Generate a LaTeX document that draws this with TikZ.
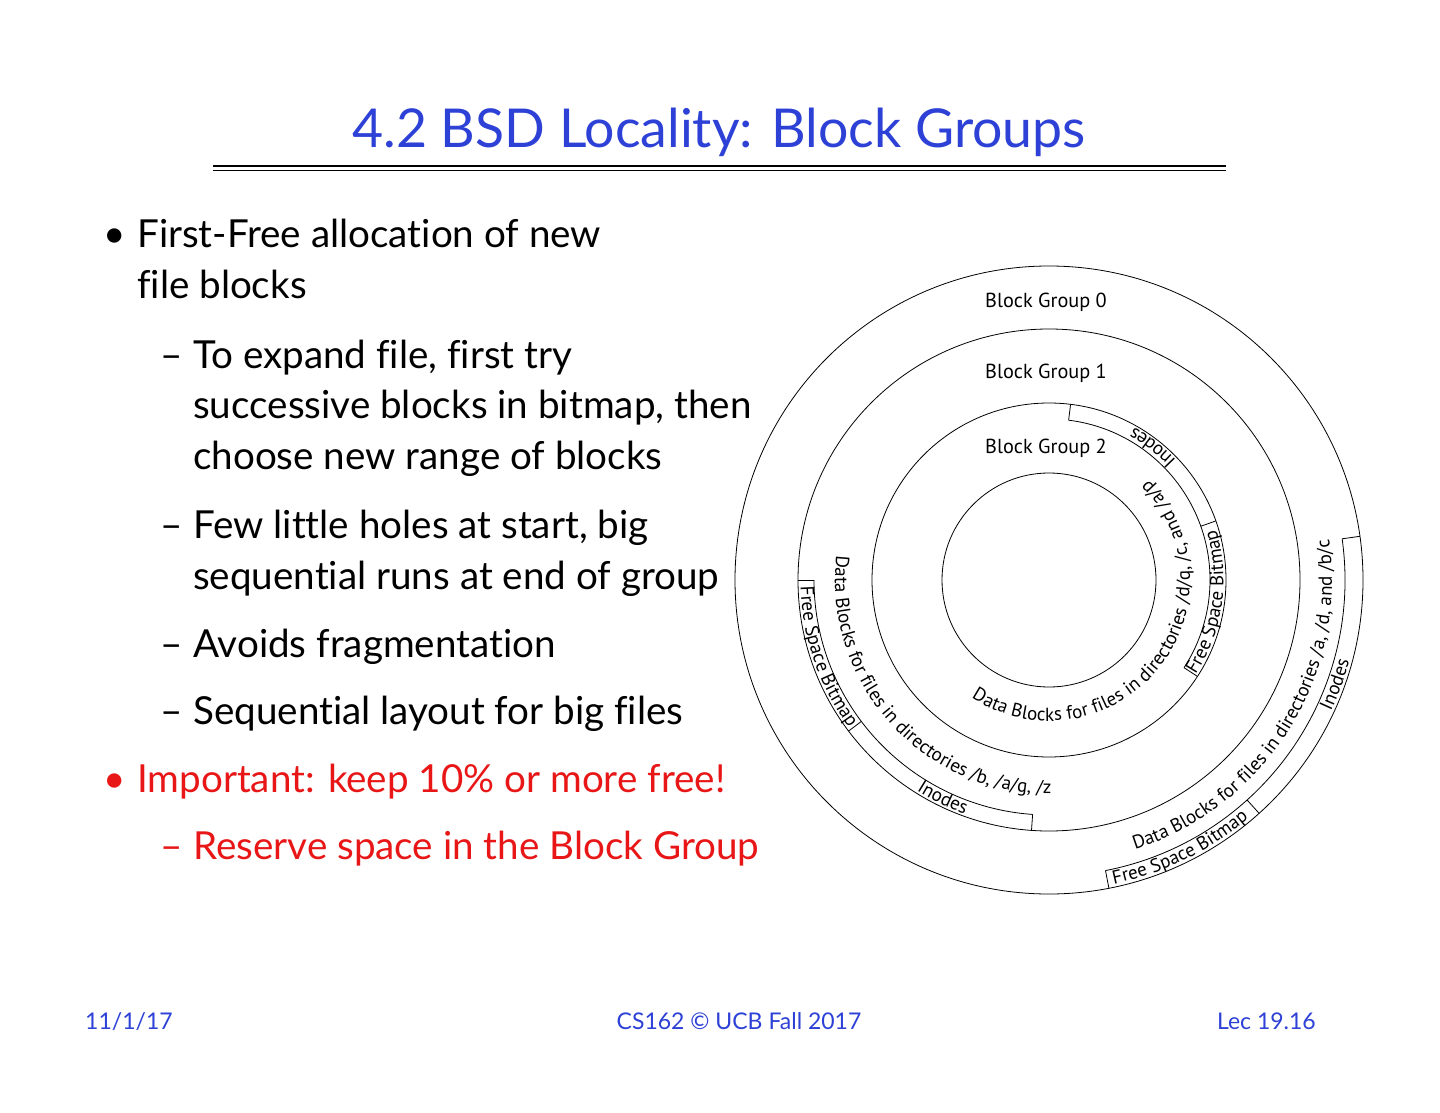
\documentclass[tikz,border=0pt]{standalone}
\usepackage{fontspec}
\setmainfont{Lato}[Ligatures=NoCommon]
\newfontfamily\diagfont{PT Sans}
\usetikzlibrary{decorations.text}
\definecolor{titleblue}{RGB}{45,65,215}
\definecolor{alertred}{RGB}{232,22,22}
% radius, centre angle, half span, text
\newcommand\ringtext[4]{%
  \path[decorate,decoration={text along path,text align=center,
    text={|\diagfont\fontsize{19}{19}\selectfont|#4}}]
    (C) ++({(#2)-(#3)}:#1pt) arc[start angle={(#2)-(#3)}, end angle={(#2)+(#3)}, radius=#1pt];}
% tick: angle, inner radius, outer radius
\newcommand\ringtick[3]{\draw[ring] ([shift={(#1:#2pt)}]C) -- ([shift={(#1:#3pt)}]C);}
\begin{document}
\begin{tikzpicture}[x=1pt,y=1pt,
  ring/.style={line width=0.8pt,black},
  body/.style={anchor=base west,inner sep=0pt,font=\fontsize{38.6}{44}\selectfont},
  bglabel/.style={anchor=base,inner sep=0pt,font=\diagfont\fontsize{20.3}{21}\selectfont},
  foot/.style={inner sep=0pt,text=titleblue,font=\fontsize{23}{23}\selectfont}]
\useasboundingbox (0,-1113) rectangle (1440,0);
\fill[white] (0,-1113) rectangle (1440,0);

% title
\node[anchor=base,inner sep=0pt,text=titleblue,font=\fontsize{53.6}{60}\selectfont] (title) at (719,-148) {4.2 BSD Locality: Block Groups};
\coordinate (rl1) at (213,-165.5); \coordinate (rr1) at (1226,-165.5);
\coordinate (rl2) at (213,-170.5); \coordinate (rr2) at (1226,-170.5);
\draw[line width=2pt] (rl1) -- (rr1);
\draw[line width=1.1pt] (rl2) -- (rr2);

% body text
\node[body] (b1) at (103,-247) {•};
\node[body] (t1) at (137,-247) {First-Free allocation of new};
\node[body] (t1b) at (137,-298) {file blocks};
\node[body] (d1) at (160,-368) {–};
\node[body] (t2) at (193,-368) {To expand file, first try};
\node[body] (t2b) at (193,-418) {successive blocks in bitmap, then};
\node[body] (t2c) at (193,-469) {choose new range of blocks};
\node[body] (d2) at (160,-538) {–};
\node[body] (t3) at (193,-538) {Few little holes at start, big};
\node[body] (t3b) at (193,-589) {sequential runs at end of group};
\node[body] (d3) at (160,-657) {–};
\node[body] (t4) at (193,-657) {Avoids fragmentation};
\node[body] (d4) at (160,-724) {–};
\node[body] (t5) at (193,-724) {Sequential layout for big files};
\node[body,text=alertred] (b2) at (103,-792) {•};
\node[body,text=alertred] (t6) at (137,-792) {Important: keep 10\% or more free!};
\node[body,text=alertred] (d5) at (160,-859) {–};
\node[body,text=alertred] (t7) at (193,-859) {Reserve space in the Block Group};

% footer
\node[foot,anchor=base west] (f1) at (85,-1029) {11/1/17};
\node[foot,anchor=base] (f2) at (739,-1029) {CS162 © UCB Fall 2017};
\node[foot,anchor=base east] (f3) at (1316,-1029) {Lec 19.16};

% diagram
\coordinate (C) at (1049,-580);
\draw[ring] (C) circle[radius=314pt];
\draw[ring] (C) circle[radius=251pt];
\draw[ring] (C) circle[radius=177pt];
\draw[ring] (C) circle[radius=107pt];

\node[bglabel] (g0) at (1046,-307) {Block Group 0};
\node[bglabel] (g1) at (1046,-378) {Block Group 1};
\node[bglabel] (g2) at (1046,-453) {Block Group 2};

% block group 0 bands
\draw[ring] (C) ++(8:296pt) arc[start angle=8, end angle=-79, radius=296pt];
\ringtick{8}{296}{314}
\ringtick{-48}{296}{314}
\ringtick{-79}{296}{314}
% block group 1 bands
\draw[ring] (C) ++(180:235pt) arc[start angle=180, end angle=266, radius=235pt];
\ringtick{180}{235}{251}
\ringtick{217}{235}{251}
\ringtick{266}{235}{251}
% block group 2 bands
\draw[ring] (C) ++(83:161pt) arc[start angle=83, end angle=-33, radius=161pt];
\ringtick{83}{161}{177}
\ringtick{19.5}{161}{177}
\ringtick{-33}{161}{177}

% curved labels
\ringtext{311}{-20}{40}{Inodes}
\ringtext{311}{-64}{40}{Free Space Bitmap}
\ringtext{283}{-32}{75}{Data Blocks for files in directories /a, /d, and /b/c}
\ringtext{248.5}{199}{40}{Free Space Bitmap}
\ringtext{248.5}{244}{40}{Inodes}
\ringtext{214}{222}{80}{Data Blocks for files in directories /b, /a/g, /z}
\ringtext{174.5}{52}{40}{Inodes}
\ringtext{174.5}{-8}{40}{Free Space Bitmap}
\ringtext{141}{-39}{110}{Data Blocks for files in directories /d/q, /c, and /a/p}
\end{tikzpicture}
\end{document}
